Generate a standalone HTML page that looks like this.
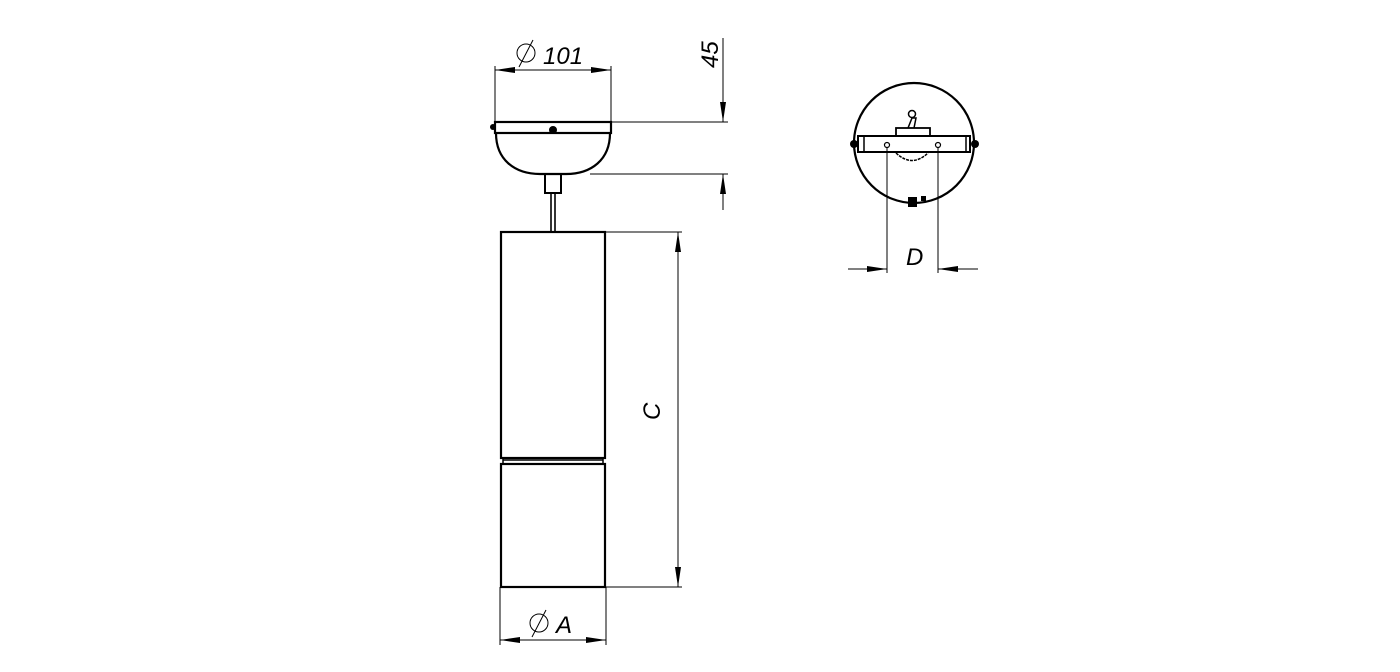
<!DOCTYPE html>
<html><head><style>body{margin:0;background:#fff}svg{display:block}</style></head><body>
<svg width="1400" height="672" viewBox="0 0 1400 672" xmlns="http://www.w3.org/2000/svg">
<defs>
<marker id="a" viewBox="0 0 20 6" refX="20" refY="3" markerWidth="20" markerHeight="6" markerUnits="userSpaceOnUse" orient="auto"><path d="M0,0 L20,3 L0,6 Z" fill="#000"/></marker>
</defs>
<g fill="none" stroke="#000">
<line x1="495" y1="66" x2="495" y2="122" stroke-width="1"/>
<line x1="611" y1="66" x2="611" y2="122" stroke-width="1"/>
<line x1="535" y1="70" x2="495" y2="70" marker-end="url(#a)"/>
<line x1="570" y1="70" x2="611" y2="70" marker-end="url(#a)"/>
<line x1="535" y1="70" x2="570" y2="70"/>
<rect x="495" y="122" width="116" height="11" stroke-width="2.2"/>
<path d="M496,133 C496,160 515,174 540,174 L566,174 C591,174 610,160 610,133" stroke-width="2.2"/>
<circle cx="553" cy="130" r="4" fill="#000" stroke="none"/>
<circle cx="493" cy="127" r="3" fill="#000" stroke="none"/>
<rect x="545" y="174" width="16" height="19" stroke-width="2"/>
<line x1="551" y1="193" x2="551" y2="232" stroke-width="1.6"/>
<line x1="555" y1="193" x2="555" y2="232" stroke-width="1.6"/>
<rect x="501" y="232" width="104" height="226" stroke-width="2.2"/>
<line x1="503" y1="460" x2="603" y2="460" stroke-width="1.5"/>
<line x1="503" y1="458" x2="503" y2="464" stroke-width="1.5"/>
<line x1="603" y1="458" x2="603" y2="464" stroke-width="1.5"/>
<rect x="501" y="464" width="104" height="123" stroke-width="2.2"/>
<line x1="605" y1="232" x2="682" y2="232"/>
<line x1="605" y1="587" x2="682" y2="587"/>
<line x1="678" y1="410" x2="678" y2="232" marker-end="url(#a)"/>
<line x1="678" y1="410" x2="678" y2="587" marker-end="url(#a)"/>
<line x1="500" y1="587" x2="500" y2="645"/>
<line x1="606" y1="587" x2="606" y2="645"/>
<line x1="553" y1="640" x2="500" y2="640" marker-end="url(#a)"/>
<line x1="553" y1="640" x2="606" y2="640" marker-end="url(#a)"/>
<line x1="611" y1="122" x2="728" y2="122"/>
<line x1="590" y1="174" x2="728" y2="174"/>
<line x1="723" y1="38" x2="723" y2="122" marker-end="url(#a)"/>
<line x1="723" y1="210" x2="723" y2="174" marker-end="url(#a)"/>
<circle cx="914" cy="143" r="60" stroke-width="2.2"/>
<rect x="858" y="136" width="112" height="16" fill="#fff" stroke-width="2"/>
<line x1="864" y1="136" x2="864" y2="152" stroke-width="1.5"/>
<line x1="966" y1="136" x2="966" y2="152" stroke-width="1.5"/>
<rect x="896" y="128" width="34" height="8" stroke-width="1.8"/>
<path d="M908,128 L912,118 L916,118 L914,128" stroke-width="1.5"/>
<circle cx="912" cy="114" r="3.5" stroke-width="1.5"/>
<path d="M896,153 Q912,168 928,153" stroke-width="1.5" stroke-dasharray="3,1"/>
<circle cx="887" cy="145" r="2.5" stroke-width="1.2"/>
<circle cx="938" cy="145" r="2.5" stroke-width="1.2"/>
<line x1="887" y1="147" x2="887" y2="273"/>
<line x1="938" y1="147" x2="938" y2="273"/>
<line x1="848" y1="269" x2="887" y2="269" marker-end="url(#a)"/>
<line x1="978" y1="269" x2="938" y2="269" marker-end="url(#a)"/>
</g>
<circle cx="854" cy="144" r="4" fill="#000"/>
<circle cx="975" cy="144" r="4" fill="#000"/>
<rect x="908" y="197" width="9" height="10" fill="#000"/>
<rect x="921" y="196" width="5" height="5" fill="#000"/>
<g font-family="Liberation Sans, sans-serif" font-style="italic" font-size="24" fill="#000">
<text x="543" y="64">101</text>
<text x="556" y="633">A</text>
<text x="906" y="265">D</text>
<text x="0" y="0" transform="translate(718,68) rotate(-90)">45</text>
<text x="0" y="0" transform="translate(660,420) rotate(-90)">C</text>
</g>
<g fill="none" stroke="#000" stroke-width="1">
<circle cx="526" cy="53" r="9"/><line x1="519" y1="67" x2="533" y2="40"/>
<circle cx="539" cy="623" r="9"/><line x1="532" y1="637" x2="546" y2="610"/>
</g>
</svg>
</body></html>
